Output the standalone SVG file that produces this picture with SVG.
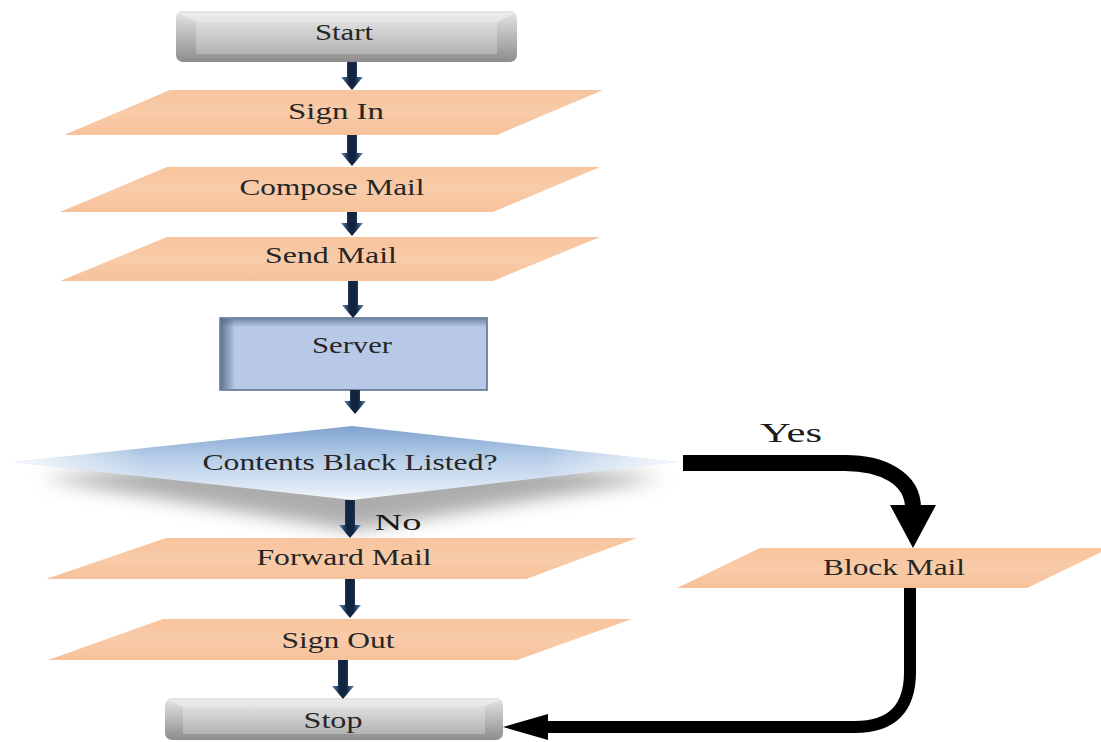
<svg xmlns="http://www.w3.org/2000/svg" width="1101" height="742" viewBox="0 0 1101 742">
<style>
.lbl{font-family:"Liberation Serif","Times New Roman",serif;font-size:23px;fill:#262626;text-anchor:middle}
.big{font-family:"Liberation Serif","Times New Roman",serif;fill:#1a1a1a;text-anchor:middle}
.para{fill:url(#peach)}
.flow{fill:url(#arrowGrad)}
.blk{fill:none;stroke:#000;stroke-linejoin:round}
</style>
<defs>
<linearGradient id="peach" x1="0" y1="0" x2="0" y2="1">
<stop offset="0" stop-color="#f7c49d"/>
<stop offset="0.5" stop-color="#f9cba8"/>
<stop offset="1" stop-color="#f6c29b"/>
</linearGradient>
<linearGradient id="arrowGrad" x1="0" y1="0" x2="1" y2="0">
<stop offset="0" stop-color="#5f8cbc"/>
<stop offset="0.35" stop-color="#132440"/>
<stop offset="0.65" stop-color="#132440"/>
<stop offset="1" stop-color="#5f8cbc"/>
</linearGradient>
<linearGradient id="grayOuter" x1="0" y1="0" x2="0" y2="1">
<stop offset="0" stop-color="#e6e6e6"/>
<stop offset="1" stop-color="#8c8c8c"/>
</linearGradient>
<linearGradient id="grayInner" x1="0" y1="0" x2="0" y2="1">
<stop offset="0" stop-color="#dedede"/>
<stop offset="1" stop-color="#b3b3b3"/>
</linearGradient>
<linearGradient id="diaFill" x1="0" y1="0" x2="0" y2="1">
<stop offset="0" stop-color="#7fa3cf"/>
<stop offset="0.45" stop-color="#b9cfe9"/>
<stop offset="0.85" stop-color="#dfe9f5"/>
<stop offset="1" stop-color="#f4f8fc"/>
</linearGradient>
<linearGradient id="diaFade" x1="0" y1="0" x2="1" y2="0">
<stop offset="0" stop-color="#ffffff" stop-opacity="0.9"/>
<stop offset="0.2" stop-color="#ffffff" stop-opacity="0"/>
<stop offset="0.8" stop-color="#ffffff" stop-opacity="0"/>
<stop offset="1" stop-color="#ffffff" stop-opacity="0.9"/>
</linearGradient>
<linearGradient id="shadeL" x1="0" y1="0" x2="1" y2="0">
<stop offset="0" stop-color="#4d6180" stop-opacity="0.8"/>
<stop offset="1" stop-color="#4d6180" stop-opacity="0"/>
</linearGradient>
<linearGradient id="shadeT" x1="0" y1="0" x2="0" y2="1">
<stop offset="0" stop-color="#4d6180" stop-opacity="0.6"/>
<stop offset="1" stop-color="#4d6180" stop-opacity="0"/>
</linearGradient>
<filter id="blur" x="-10%" y="-50%" width="120%" height="200%">
<feGaussianBlur stdDeviation="9"/>
</filter>
</defs>

<g id="start">
<rect x="176" y="11" width="341" height="51" rx="7" fill="url(#grayOuter)"/>
<polygon points="178,13 515,13 497,22 196,22" fill="#f2f2f2" opacity="0.6"/>
<rect x="196" y="22" width="301" height="32" fill="url(#grayInner)"/>
<text class="lbl" x="344" y="40" textLength="58" lengthAdjust="spacingAndGlyphs">Start</text>
</g>

<g id="sign-in">
<polygon class="para" points="170,90 603,90 497,135 64,135"/>
<text class="lbl" x="336" y="119" textLength="96" lengthAdjust="spacingAndGlyphs">Sign In</text>
</g>

<g id="compose-mail">
<polygon class="para" points="167,167 600,167 493,212 60,212"/>
<text class="lbl" x="332" y="195" textLength="185" lengthAdjust="spacingAndGlyphs">Compose Mail</text>
</g>

<g id="send-mail">
<polygon class="para" points="167,237 600,237 493,281 60,281"/>
<text class="lbl" x="331" y="263" textLength="132" lengthAdjust="spacingAndGlyphs">Send Mail</text>
</g>

<g id="server">
<rect x="220" y="318" width="267" height="72" fill="#b7c9e7" stroke="#56698a" stroke-width="1.5"/>
<rect x="221" y="319" width="14" height="70" fill="url(#shadeL)"/>
<rect x="221" y="319" width="265" height="8" fill="url(#shadeT)"/>
<text class="lbl" x="352" y="353" textLength="80" lengthAdjust="spacingAndGlyphs">Server</text>
</g>

<g id="decision">
<polygon points="40,478 352,448 665,478 352,530" fill="#8a8a8a" opacity="0.7" filter="url(#blur)"/>
<polygon points="13,462 352,426 677,462 352,500" fill="url(#diaFill)"/>
<polygon points="13,462 352,426 677,462 352,500" fill="url(#diaFade)"/>
<text class="lbl" x="350" y="470" textLength="295" lengthAdjust="spacingAndGlyphs">Contents Black Listed?</text>
</g>

<g id="forward-mail">
<polygon class="para" points="166,538 637,538 526,579 46,579"/>
<text class="lbl" x="344" y="565" textLength="175" lengthAdjust="spacingAndGlyphs">Forward Mail</text>
</g>

<g id="sign-out">
<polygon class="para" points="163,619 632,619 517,660 48,660"/>
<text class="lbl" x="338" y="648" textLength="113" lengthAdjust="spacingAndGlyphs">Sign Out</text>
</g>

<g id="block-mail">
<polygon class="para" points="760,548 1110,548 1027,588 677,588"/>
<text class="lbl" x="894" y="575" textLength="142" lengthAdjust="spacingAndGlyphs">Block Mail</text>
</g>

<g id="stop">
<rect x="165" y="698" width="338" height="42" rx="7" fill="url(#grayOuter)"/>
<polygon points="167,700 501,700 483,707 183,707" fill="#f2f2f2" opacity="0.6"/>
<rect x="183" y="707" width="302" height="27" fill="url(#grayInner)"/>
<text class="lbl" x="333" y="728" textLength="59" lengthAdjust="spacingAndGlyphs">Stop</text>
</g>

<g id="connectors">
<polygon class="flow" points="347,62 357,62 357,77 363,77 352,90 341,77 347,77"/>
<polygon class="flow" points="347,135 357,135 357,153 363,153 352,166 341,153 347,153"/>
<polygon class="flow" points="347,212 357,212 357,223 363,223 352,236 341,223 347,223"/>
<polygon class="flow" points="348,281 358,281 358,305 364,305 353,318 342,305 348,305"/>
<polygon class="flow" points="350,390 360,390 360,401 366,401 355,414 344,401 350,401"/>
<polygon class="flow" points="345,500 355,500 355,525 361,525 350,538 339,525 345,525"/>
<polygon class="flow" points="345,579 355,579 355,605 361,605 350,618 339,605 345,605"/>
<polygon class="flow" points="338,660 348,660 348,686 354,686 343,699 332,686 338,686"/>
<path class="blk" d="M683 463 H845 C882 463 913 478 913 508" stroke-width="16"/>
<polygon points="890,505 936,505 913,548" fill="#000"/>
<path class="blk" d="M910 588 V672 Q910 727 855 727 H545" stroke-width="12"/>
<polygon points="503,727 548,714 548,740" fill="#000"/>
<text class="big" x="791" y="442" font-size="28" textLength="62" lengthAdjust="spacingAndGlyphs">Yes</text>
<text class="big" x="398" y="530" font-size="24" textLength="47" lengthAdjust="spacingAndGlyphs">No</text>
</g>
</svg>
